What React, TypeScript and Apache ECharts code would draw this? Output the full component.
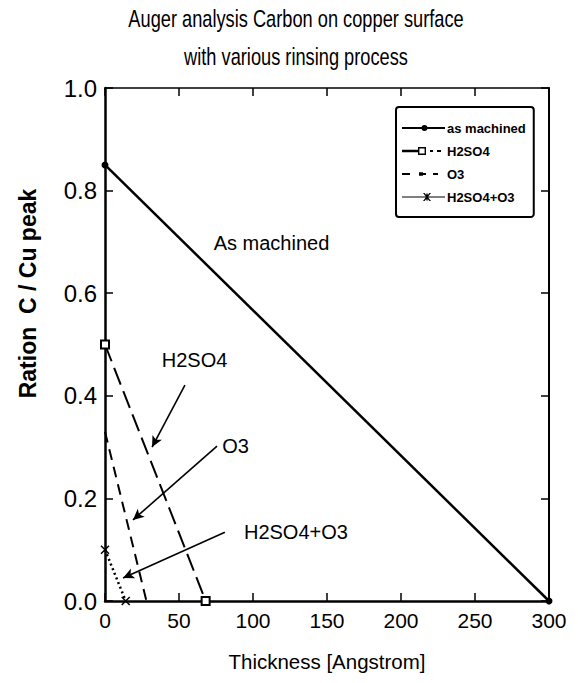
import React, { useEffect, useRef } from "react";
import * as echarts from "echarts";

const xMin = 0;
const xMax = 300;
const xStep = 50;
const yMin = 0;
const yMax = 1;
const yStep = 0.2;

const seriesNames = ["as machined", "H2SO4", "O3", "H2SO4+O3"];
const asMachinedX = [0, 300];
const asMachinedY = [0.85, 0.0];
const h2so4X = [0, 68];
const h2so4Y = [0.5, 0.0];
const o3X = [0, 28];
const o3Y = [0.33, 0.0];
const h2so4o3X = [0, 14];
const h2so4o3Y = [0.1, 0.0];

const noteTexts = ["As machined", "H2SO4", "O3", "H2SO4+O3"];
const noteX = [112.5, 60.5, 88.2, 129];
const noteY = [0.698, 0.47, 0.302, 0.135];
const arrowFromX = [54, 75.7, 81];
const arrowFromY = [0.421, 0.302, 0.134];
const arrowToX = [31.8, 18.9, 12.2];
const arrowToY = [0.3, 0.158, 0.045];

const titleLines = ["Auger analysis Carbon on copper surface", "with various rinsing process"];

const SANS = "'Liberation Sans', Arial, sans-serif";

// legend icons (line sample + marker), drawn in a 43x10 box
const BOX = "M0,0L0,0Z M43,10L43,10Z ";
const legendIcons = [
  "path://" + BOX + "M0,4H43V6H0Z M19.5,5A3,3 0 1,1 25.5,5A3,3 0 1,1 19.5,5Z",
  "path://" + BOX + "M0,3.8H16V6.2H0Z M16,1H24V9H16Z M17.4,2.4V7.6H22.6V2.4Z M28,4H31V6H28Z M35,4H39V6H35Z",
  "path://" + BOX + "M0,4H8V6H0Z M17,4H24V6H17Z M17,3.3H21V6.7H17Z M31,4H36V6H31Z",
  "path://" + BOX + "M0,4.4H43V5.6H0Z M21,1L22.6,1L29,9L27.4,9Z M27.4,1L29,1L22.6,9L21,9Z M24.3,1.5H25.7V8.5H24.3Z",
];

const pairs = (xs: number[], ys: number[]) => xs.map((x, i) => [x, ys[i]]);

export default function App() {
  const ref = useRef<HTMLDivElement>(null);
  useEffect(() => {
    document.body.style.margin = "0";
    const chart = echarts.init(ref.current!, undefined, { renderer: "svg" });
    const axisCommon = {
      type: "value" as const,
      splitLine: { show: false },
      axisTick: { show: true, inside: true, length: 8, lineStyle: { color: "#000", width: 1.5 } },
    };
    const option: any = {
      animation: false,
      backgroundColor: "#fff",
      color: ["#000", "#000", "#000", "#000"],
      graphic: titleLines.map((t, i) => ({
        type: "text",
        x: 296,
        y: 19 + i * 38,
        scaleX: 0.76,
        style: {
          text: t,
          font: `24px ${SANS}`,
          fill: "#000",
          textAlign: "center",
          textVerticalAlign: "middle",
        },
      })),
      grid: { left: 105, right: 29, top: 88, bottom: 82 },
      legend: {
        orient: "vertical",
        left: 396,
        top: 107,
        backgroundColor: "#fff",
        borderColor: "#000",
        borderWidth: 2,
        borderRadius: 3,
        padding: [13, 8, 12, 6],
        itemWidth: 43,
        itemHeight: 10,
        itemGap: 7,
        data: seriesNames.map((n, i) => ({
          name: n,
          icon: legendIcons[i],
          itemStyle: { color: "#000", borderWidth: 0 },
        })),
        textStyle: { fontFamily: SANS, fontSize: 13, fontWeight: "bold", color: "#000", lineHeight: 16, padding: [0, 0, 0, -3] },
      },
      xAxis: [
        {
          ...axisCommon,
          min: xMin,
          max: xMax,
          interval: xStep,
          position: "bottom",
          axisLine: { show: true, onZero: false, lineStyle: { color: "#000", width: 2.5 } },
          axisLabel: { color: "#000", fontFamily: SANS, fontSize: 21, margin: 9 },
          name: "Thickness [Angstrom]",
          nameLocation: "middle",
          nameGap: 50,
          nameTextStyle: { color: "#000", fontFamily: SANS, fontSize: 20.5 },
        },
        {
          ...axisCommon,
          min: xMin,
          max: xMax,
          interval: xStep,
          position: "top",
          axisLine: { show: true, onZero: false, lineStyle: { color: "#000", width: 1.5 } },
          axisLabel: { show: false },
        },
      ],
      yAxis: [
        {
          ...axisCommon,
          min: yMin,
          max: yMax,
          interval: yStep,
          position: "left",
          axisLine: { show: true, onZero: false, lineStyle: { color: "#000", width: 2.5 } },
          axisLabel: {
            color: "#000",
            fontFamily: SANS,
            fontSize: 24,
            margin: 8,
            padding: [18, 0, 0, 0],
            formatter: (v: number) => v.toFixed(1),
          },
          name: "Ration  C / Cu peak",
          nameLocation: "middle",
          nameGap: 66,
          nameTextStyle: { color: "#000", fontFamily: SANS, fontSize: 23, fontWeight: "bold", padding: [0, 0, 0, 102] },
        },
        {
          ...axisCommon,
          min: yMin,
          max: yMax,
          interval: yStep,
          position: "right",
          axisLine: { show: true, onZero: false, lineStyle: { color: "#000", width: 2 } },
          axisLabel: { show: false },
        },
      ],
      series: [
        {
          name: seriesNames[0],
          type: "line",
          xAxisIndex: 0,
          yAxisIndex: 0,
          data: pairs(asMachinedX, asMachinedY),
          symbol: "circle",
          symbolSize: 7,
          itemStyle: { color: "#000" },
          lineStyle: { color: "#000", width: 2.5, type: "solid" },
          markPoint: {
            symbol: "circle",
            symbolSize: 0,
            silent: true,
            label: {
              show: true,
              position: "inside",
              color: "#000",
              fontFamily: SANS,
              fontSize: 20,
              formatter: (p: any) => p.name,
            },
            data: noteTexts.map((t, i) => ({ name: t, coord: [noteX[i], noteY[i]] })),
          },
          markLine: {
            silent: true,
            symbol: ["none", "arrow"],
            symbolSize: [8, 11],
            label: { show: false },
            lineStyle: { color: "#000", width: 1.6, type: "solid" },
            data: arrowFromX.map((x, i) => [
              { coord: [x, arrowFromY[i]] },
              { coord: [arrowToX[i], arrowToY[i]] },
            ]),
          },
        },
        {
          name: seriesNames[1],
          type: "line",
          xAxisIndex: 0,
          yAxisIndex: 0,
          data: pairs(h2so4X, h2so4Y),
          symbol: "emptyRect",
          symbolSize: 8,
          itemStyle: { color: "#000", borderWidth: 1.3 },
          lineStyle: { color: "#000", width: 2, type: [18, 7] },
        },
        {
          name: seriesNames[2],
          type: "line",
          xAxisIndex: 0,
          yAxisIndex: 0,
          data: pairs(o3X, o3Y),
          showSymbol: false,
          symbol: "none",
          itemStyle: { color: "#000" },
          lineStyle: { color: "#000", width: 2, type: [11, 7] },
        },
        {
          name: seriesNames[3],
          type: "line",
          xAxisIndex: 0,
          yAxisIndex: 0,
          data: pairs(h2so4o3X, h2so4o3Y),
          symbol: "path://M0,0L10,10M10,0L0,10",
          symbolSize: 8,
          itemStyle: { color: "#000", borderColor: "#000", borderWidth: 1.5 },
          lineStyle: { color: "#000", width: 2.5, type: [2, 3] },
        },
      ],
    };
    chart.setOption(option);
    return () => chart.dispose();
  }, []);
  return <div ref={ref} style={{ width: 578, height: 683 }} />;
}
